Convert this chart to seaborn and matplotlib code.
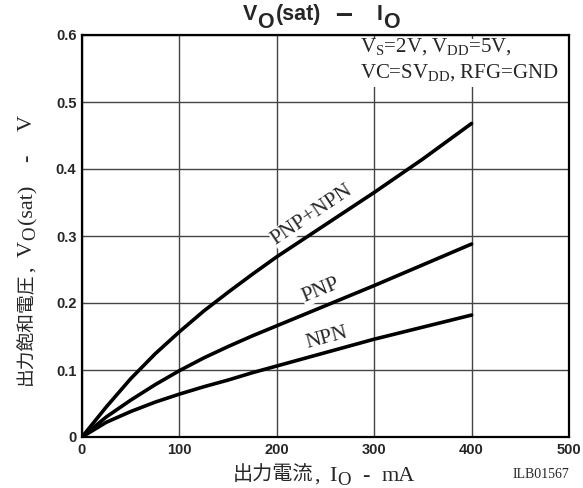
import pandas as pd
import matplotlib
matplotlib.use("Agg")
import matplotlib.pyplot as plt
from matplotlib.transforms import IdentityTransform
from matplotlib.patches import Rectangle
import seaborn as sns

# values
io_ma = [0, 25, 50, 75, 100, 125, 150, 175, 200, 250, 300, 350, 400]
vo_pnp_npn = [0, 0.045, 0.087, 0.124, 0.157, 0.188, 0.216, 0.243, 0.269, 0.317, 0.365, 0.415, 0.468]
vo_pnp = [0, 0.030, 0.055, 0.078, 0.099, 0.118, 0.135, 0.151, 0.166, 0.196, 0.226, 0.257, 0.288]
vo_npn = [0, 0.022, 0.038, 0.052, 0.064, 0.075, 0.085, 0.096, 0.106, 0.126, 0.146, 0.164, 0.182]

x_ticks = [0, 100, 200, 300, 400, 500]
y_ticks = [0, 0.1, 0.2, 0.3, 0.4, 0.5, 0.6]
y_tick_labels = ["0", "0.1", "0.2", "0.3", "0.4", "0.5", "0.6"]

W, H = 583, 488
SANS = "Liberation Sans"
SERIF = "Liberation Serif"
CJK = "Noto Sans CJK JP"

sns.set_theme(style="white")
plt.rcParams["font.family"] = [SANS, CJK, "DejaVu Sans"]
plt.rcParams["mathtext.fontset"] = "custom"
plt.rcParams["mathtext.rm"] = SERIF
plt.rcParams["mathtext.it"] = SERIF + ":italic"
plt.rcParams["mathtext.bf"] = SERIF + ":bold"

df = pd.DataFrame({"Io": io_ma, "PNP+NPN": vo_pnp_npn, "PNP": vo_pnp, "NPN": vo_npn})

fig = plt.figure(figsize=(W / 100, H / 100), dpi=100)
ax = fig.add_axes([82 / W, 51 / H, 487 / W, 402 / H])
ident = IdentityTransform()
rend = fig.canvas.get_renderer()

for col in ["PNP+NPN", "PNP", "NPN"]:
    sns.lineplot(data=df, x="Io", y=col, ax=ax, color="black", linewidth=2.6, zorder=3)

ax.set_xlim(0, 500)
ax.set_ylim(0, 0.6)
ax.set_xticks(x_ticks)
ax.set_yticks(y_ticks)
ax.set_yticklabels(y_tick_labels)
ax.set_xlabel("")
ax.set_ylabel("")
ax.tick_params(axis="both", length=0, labelsize=10.5, pad=4)
for lab in ax.get_xticklabels() + ax.get_yticklabels():
    lab.set_fontweight("bold")
    lab.set_fontfamily(SANS)
ax.set_axisbelow(True)
ax.grid(True, color="#444444", linewidth=1.0)
for sp in ax.spines.values():
    sp.set_color("black")
    sp.set_linewidth(1.6)


def run(x, y, pieces, weight="normal"):
    # horizontal run of text pieces, x/y in reference pixels (y from the top, baseline)
    # piece = (text, family, size, drop, gap before)
    for s, fam, size, dy, gap in pieces:
        x += gap
        t = fig.text(x, H - y - dy, s, transform=ident, fontfamily=fam, fontsize=size,
                     fontweight=weight, ha="left", va="baseline", zorder=5)
        x = t.get_window_extent(rend).x1


def run_v(xb, y, pieces):
    # same, rotated 90 degrees and reading upwards from y
    for s, fam, size, dx, gap in pieces:
        y -= gap
        t = fig.text(xb + dx, H - y, s, transform=ident, fontfamily=fam, fontsize=size,
                     rotation=90, rotation_mode="anchor", ha="left", va="baseline")
        y = H - t.get_window_extent(rend).y1


# title: V_O(sat) - I_O with large subscripts
run(243, 20, [("V", SANS, 15.5, 0, 0), ("O", SANS, 15.5, 8.5, 0), ("(sat)", SANS, 15.5, 0, 2),
              ("–", SANS, 22, 3, 14), ("I", SANS, 15.5, 0, 24), ("O", SANS, 15.5, 8.5, 1)],
    weight="bold")

# x axis label
run(233, 480.5, [("出力電流", CJK, 14.5, 0, 0), (",", SERIF, 16, 0.5, 1),
                 ("I", SERIF, 16, 0.5, 9), ("O", SERIF, 13.5, 4.5, 0.5),
                 ("-", SERIF, 16, 0.5, 12), ("mA", SERIF, 16, 0.5, 12)])

# y axis label
run_v(31, 385, [("出力飽和電圧", CJK, 13.5, 0, 0), (",", SERIF, 16, 1, 1),
                ("V", SERIF, 16, 1, 9), ("O", SERIF, 13.5, 4, 0.5),
                ("(sat)", SERIF, 16, 1, 3), ("-", SERIF, 16, 1, 22), ("V", SERIF, 16, 1, 24)])

run(513, 478, [("ILB01567", SERIF, 10, 0, 0)])

# condition note, white box behind it hides the grid
ax.add_patch(Rectangle((352, H - 87), 215, 48, transform=ident, facecolor="white",
                       edgecolor="none", zorder=2))
note = dict(transform=ident, fontfamily=SERIF, fontsize=15, ha="left", va="baseline", zorder=5)
fig.text(360, H - 52, "V$_\\mathrm{S}$=2V, V$_\\mathrm{DD}$=5V,", **note)
fig.text(360, H - 78, "VC=SV$_\\mathrm{DD}$, RFG=GND", **note)

# curve labels
lbl = dict(fontfamily=SERIF, fontsize=15.5, ha="center", va="center",
           bbox=dict(facecolor="white", edgecolor="none", pad=0.3), zorder=4)
ax.text(236, 0.332, "PNP+NPN", rotation=34, **lbl)
ax.text(245, 0.219, "PNP", rotation=22, **lbl)
ax.text(251, 0.148, "NPN", rotation=15, **lbl)

fig.savefig("out.png", dpi=100)
